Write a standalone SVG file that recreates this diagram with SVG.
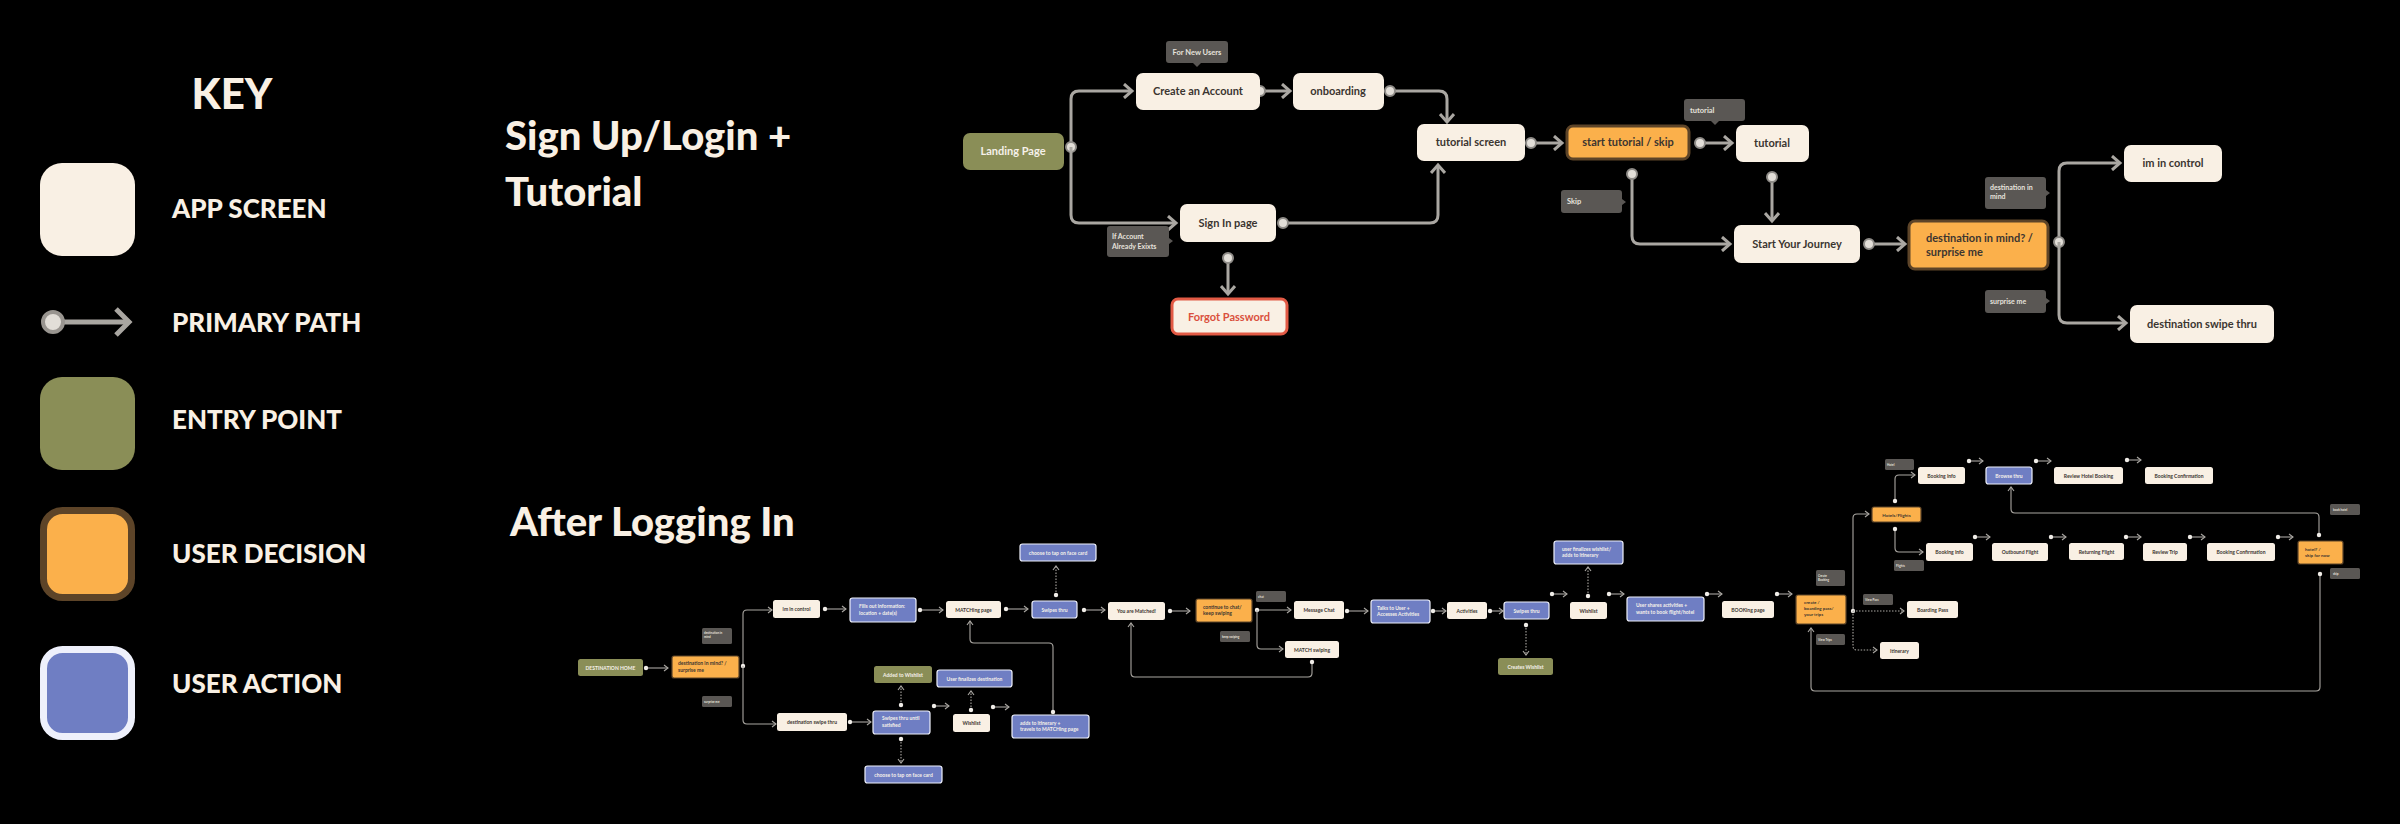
<svg xmlns="http://www.w3.org/2000/svg" width="2400" height="824" viewBox="0 0 2400 824">
<style>
text{font-family:Lato,"Noto Sans","Liberation Sans",sans-serif;font-weight:bold}
.scr{fill:#f9f0e4}
.ent{fill:#8a8e57}
.dec{fill:#fbb04b;stroke:#5d4428;stroke-width:3}
.decs{fill:#fbb04b;stroke:#5d4428;stroke-width:1.2}
.act{fill:#6f7ec3;stroke:#eef0fb;stroke-width:1.2}
.tip{fill:#5a5754}
.d{fill:#3b3530}
.w{fill:#f6f1ea}
.tt{fill:#e6e2dc}
.big{font-weight:900;fill:#f9f0e4}
.c{fill:none;stroke:#aaa7a2;stroke-width:3;marker-end:url(#ab)}
.cd{marker-start:url(#db)}
.s{fill:none;stroke:#aaa7a2;stroke-width:1.1;marker-end:url(#as)}
.sd{marker-start:url(#ds)}
.dot{stroke-dasharray:1.5 1.5}
.m{text-anchor:middle}
</style>
<defs>
<marker id="ab" markerUnits="userSpaceOnUse" markerWidth="14" markerHeight="16" refX="11" refY="8" orient="auto"><path d="M3,1 L11,8 L3,15" fill="none" stroke="#aaa7a2" stroke-width="3"/></marker>
<marker id="db" markerUnits="userSpaceOnUse" markerWidth="16" markerHeight="16" refX="8" refY="8"><circle cx="8" cy="8" r="5" fill="#e2ded8" stroke="#8f8c88" stroke-width="2"/></marker>
<marker id="as" markerUnits="userSpaceOnUse" markerWidth="6" markerHeight="8" refX="5" refY="4" orient="auto"><path d="M1,1 L5,4 L1,7" fill="none" stroke="#aaa7a2" stroke-width="1.1"/></marker>
<marker id="ds" markerUnits="userSpaceOnUse" markerWidth="6" markerHeight="6" refX="3" refY="3"><circle cx="3" cy="3" r="2.2" fill="#f0ede8"/></marker>
</defs>
<rect width="2400" height="824" fill="#000"/>

<g id="key">
<text x="232" y="109" class="big m" font-size="42">KEY</text>
<rect x="40" y="163" width="95" height="93" rx="22" class="scr"/>
<text x="172" y="218" class="big" font-size="26">APP SCREEN</text>
<line x1="60" y1="322" x2="126" y2="322" stroke="#a9a6a1" stroke-width="5"/>
<path d="M116,309 L129,322 L116,335" fill="none" stroke="#a9a6a1" stroke-width="5"/>
<circle cx="53" cy="322" r="10" fill="#e2ded8" stroke="#999590" stroke-width="4"/>
<text x="172" y="332" class="big" font-size="26">PRIMARY PATH</text>
<rect x="40" y="377" width="95" height="93" rx="22" class="ent"/>
<text x="172" y="429" class="big" font-size="26">ENTRY POINT</text>
<rect x="43.5" y="510.5" width="88" height="87" rx="19" fill="#fbb04b" stroke="#5d4428" stroke-width="7"/>
<text x="172" y="563" class="big" font-size="26">USER DECISION</text>
<rect x="43.5" y="649.5" width="88" height="87" rx="19" fill="#6f7ec3" stroke="#eef0fb" stroke-width="7"/>
<text x="172" y="693" class="big" font-size="26">USER ACTION</text>
</g>

<g id="titles">
<text x="505" y="150" class="big" font-size="40">Sign Up/Login +</text>
<text x="505" y="206" class="big" font-size="40">Tutorial</text>
<text x="510" y="536" class="big" font-size="40">After Logging In</text>
</g>

<g id="connectors">
<path class="c cd" d="M1071,147 V99 Q1071,91 1079,91 H1132"/>
<path class="c" d="M1071,147 V215 Q1071,223 1079,223 H1176"/>
<path class="c cd" d="M1260,91 H1290"/>
<path class="c cd" d="M1390,91 H1439 Q1447,91 1447,99 V122"/>
<path class="c cd" d="M1283,223 H1430 Q1438,223 1438,215 V165"/>
<path class="c cd" d="M1228,258 V294"/>
<path class="c cd" d="M1531,143 H1562"/>
<path class="c cd" d="M1700,143 H1732"/>
<path class="c cd" d="M1632,174 V236 Q1632,244 1640,244 H1730"/>
<path class="c cd" d="M1772,177 V221"/>
<path class="c cd" d="M1869,244 H1905"/>
<path class="c cd" d="M2059,242 V171 Q2059,163 2067,163 H2120"/>
<path class="c" d="M2059,242 V315 Q2059,323 2067,323 H2126"/>

<path class="s sd" d="M646,668 H668"/>
<path class="s sd" d="M743,666 V614 Q743,610 747,610 H772"/>
<path class="s" d="M743,666 V720 Q743,724 747,724 H776"/>
<path class="s sd" d="M825,609 H846"/>
<path class="s sd" d="M920,610 H943"/>
<path class="s sd" d="M1006,609 H1028"/>
<path class="s sd dot" d="M1056,595 V566"/>
<path class="s sd" d="M1084,610 H1105"/>
<path class="s sd" d="M850,722 H871"/>
<path class="s sd dot" d="M901,705 V686"/>
<path class="s sd dot" d="M901,739 V763"/>
<path class="s sd" d="M934,706 H949"/>
<path class="s sd dot" d="M971,710 V691"/>
<path class="s sd" d="M993,707 H1009"/>
<path class="s sd" d="M1053,712 V647 Q1053,643 1049,643 H974 Q970,643 970,639 V621"/>
<path class="s sd" d="M1170,611 H1190"/>
<path class="s sd" d="M1257,610 H1291"/>
<path class="s" d="M1257,610 V645 Q1257,649 1261,649 H1283"/>
<path class="s sd" d="M1312,662 V673 Q1312,677 1308,677 H1135 Q1131,677 1131,673 V623"/>
<path class="s sd" d="M1347,611 H1368"/>
<path class="s sd" d="M1433,611 H1446"/>
<path class="s sd" d="M1490,611 H1503"/>
<path class="s sd dot" d="M1526,625 V655"/>
<path class="s sd" d="M1552,594 H1567"/>
<path class="s sd dot" d="M1588,596 V567"/>
<path class="s sd" d="M1609,594 H1624"/>
<path class="s sd" d="M1707,594 H1722"/>
<path class="s sd" d="M1777,594 H1792"/>
<path class="s sd" d="M1853,611 V518 Q1853,514 1857,514 H1869"/>
<path class="s dot" d="M1853,611 H1904"/>
<path class="s dot" d="M1853,611 V646 Q1853,650 1857,650 H1877"/>
<path class="s sd" d="M1895,501 V479 Q1895,475 1899,475 H1915"/>
<path class="s sd" d="M1895,529 V548 Q1895,552 1899,552 H1923"/>
<path class="s sd" d="M1969,461 H1983"/>
<path class="s sd" d="M2036,461 H2051"/>
<path class="s sd" d="M2127,460 H2141"/>
<path class="s sd" d="M1975,537 H1990"/>
<path class="s sd" d="M2051,537 H2066"/>
<path class="s sd" d="M2126,537 H2141"/>
<path class="s sd" d="M2190,537 H2205"/>
<path class="s sd" d="M2278,537 H2293"/>
<path class="s sd" d="M2319,535 V517 Q2319,513 2315,513 H2015 Q2011,513 2011,509 V487"/>
<path class="s sd" d="M2320,574 V687 Q2320,691 2316,691 H1815 Q1811,691 1811,687 V628"/>
</g>

<!-- top flow -->
<g id="landing"><rect x="963" y="133" width="101" height="37" rx="7" class="ent"/><text x="1013" y="155" class="w m" font-size="11">Landing Page</text></g>
<g id="create"><rect x="1136" y="73" width="124" height="37" rx="7" class="scr"/><text x="1198" y="95" class="d m" font-size="11">Create an Account</text></g>
<g id="tip-new"><path d="M1169,41 H1225 Q1228,41 1228,44 V60 Q1228,63 1225,63 H1201 L1197,67 L1193,63 H1169 Q1166,63 1166,60 V44 Q1166,41 1169,41Z" class="tip"/><text x="1197" y="55" class="tt m" font-size="7.5">For New Users</text></g>
<g id="onboarding"><rect x="1293" y="73" width="91" height="37" rx="7" class="scr"/><text x="1338" y="95" class="d m" font-size="11">onboarding</text></g>
<g id="tutscreen"><rect x="1417" y="124" width="108" height="37" rx="7" class="scr"/><text x="1471" y="146" class="d m" font-size="11">tutorial screen</text></g>
<g id="starttut"><rect x="1567" y="126" width="122" height="33" rx="6" class="dec"/><text x="1628" y="146" class="d m" font-size="11">start tutorial / skip</text></g>
<g id="tip-tut"><path d="M1687,99 H1742 Q1745,99 1745,102 V118 Q1745,121 1742,121 H1719 L1715,125 L1711,121 H1687 Q1684,121 1684,118 V102 Q1684,99 1687,99Z" class="tip"/><text x="1690" y="113" class="tt" font-size="7.5">tutorial</text></g>
<g id="tutorial"><rect x="1736" y="125" width="73" height="37" rx="7" class="scr"/><text x="1772" y="147" class="d m" font-size="11">tutorial</text></g>
<g id="tip-skip"><path d="M1564,190 H1619 Q1622,190 1622,193 V199 L1626,202 L1622,205 V210 Q1622,213 1619,213 H1564 Q1561,213 1561,210 V193 Q1561,190 1564,190Z" class="tip"/><text x="1567" y="204" class="tt" font-size="7.5">Skip</text></g>
<g id="journey"><rect x="1734" y="225" width="126" height="38" rx="7" class="scr"/><text x="1797" y="248" class="d m" font-size="11">Start Your Journey</text></g>
<g id="destdec"><rect x="1909" y="221" width="139" height="48" rx="6" class="dec"/><text x="1926" y="242" class="d" font-size="11">destination in mind? /<tspan x="1926" dy="14">surprise me</tspan></text></g>
<g id="tip-dim"><path d="M1988,177 H2043 Q2046,177 2046,180 V190 L2050,193 L2046,196 V206 Q2046,209 2043,209 H1988 Q1985,209 1985,206 V180 Q1985,177 1988,177Z" class="tip"/><text x="1990" y="190" class="tt" font-size="7">destination in<tspan x="1990" dy="9">mind</tspan></text></g>
<g id="tip-sur"><path d="M1988,290 H2043 Q2046,290 2046,293 V298 L2050,301 L2046,304 V310 Q2046,313 2043,313 H1988 Q1985,313 1985,310 V293 Q1985,290 1988,290Z" class="tip"/><text x="1990" y="304" class="tt" font-size="7">surprise me</text></g>
<g id="control"><rect x="2124" y="145" width="98" height="37" rx="7" class="scr"/><text x="2173" y="167" class="d m" font-size="11">im in control</text></g>
<g id="swipethru"><rect x="2130" y="305" width="144" height="38" rx="7" class="scr"/><text x="2202" y="328" class="d m" font-size="11">destination swipe thru</text></g>
<g id="signin"><rect x="1180" y="204" width="96" height="38" rx="7" class="scr"/><text x="1228" y="227" class="d m" font-size="11">Sign In page</text></g>
<g id="tip-acc"><path d="M1110,226 H1166 Q1169,226 1169,229 V238 L1173,241 L1169,244 V254 Q1169,257 1166,257 H1110 Q1107,257 1107,254 V229 Q1107,226 1110,226Z" class="tip"/><text x="1112" y="239" class="tt" font-size="7">If Account<tspan x="1112" dy="10">Already Exixts</tspan></text></g>
<g id="forgot"><rect x="1172" y="299" width="115" height="35" rx="6" fill="#f9f0e4" stroke="#e25a45" stroke-width="3"/><text x="1229" y="321" fill="#d9503d" class="m" font-size="11">Forgot Password</text></g>

<!-- bottom flow -->
<g id="b-home"><rect x="578" y="659" width="65" height="17" rx="2.5" class="ent"/><text x="610.5" y="669.5" class="w m" font-size="5">DESTINATION HOME</text></g>
<g id="b-dec1"><rect x="672" y="656" width="67" height="22" rx="2" class="decs"/><text x="678" y="665" class="d" font-size="5">destination in mind? /<tspan x="678" dy="6.5">surprise me</tspan></text></g>
<g id="b-tip1"><rect x="702" y="628" width="30" height="16" rx="1.5" class="tip"/><text x="704" y="634" class="tt" font-size="3">destination in<tspan x="704" dy="4">mind</tspan></text></g>
<g id="b-tip2"><rect x="702" y="696" width="30" height="11" rx="1.5" class="tip"/><text x="704" y="702.5" class="tt" font-size="3">surprise me</text></g>
<g id="b-control"><rect x="773" y="600" width="47" height="18" rx="2.5" class="scr"/><text x="796.5" y="611" class="d m" font-size="5">im in control</text></g>
<g id="b-fills"><rect x="850" y="598" width="66" height="24" rx="2.5" class="act"/><text x="859" y="608" class="w" font-size="5">Fills out information:<tspan x="859" dy="6.5">location + date(s)</tspan></text></g>
<g id="b-matching"><rect x="946" y="601" width="55" height="17" rx="2.5" class="scr"/><text x="973.5" y="611.5" class="d m" font-size="5">MATCHing page</text></g>
<g id="b-swipes1"><rect x="1032" y="601" width="45" height="17" rx="2.5" class="act"/><text x="1054.5" y="611.5" class="w m" font-size="5">Swipes thru</text></g>
<g id="b-face1"><rect x="1020" y="544" width="76" height="17" rx="2.5" class="act"/><text x="1058" y="554.5" class="w m" font-size="5">choose to tap on face card</text></g>
<g id="b-dswipe"><rect x="777" y="713" width="70" height="18" rx="2.5" class="scr"/><text x="812" y="724" class="d m" font-size="5">destination swipe thru</text></g>
<g id="b-until"><rect x="873" y="711" width="57" height="23" rx="2.5" class="act"/><text x="882" y="720" class="w" font-size="5">Swipes thru until<tspan x="882" dy="6.5">satisfied</tspan></text></g>
<g id="b-added"><rect x="874" y="666" width="58" height="17" rx="2.5" class="ent"/><text x="903" y="676.5" class="w m" font-size="5">Added to Wishlist</text></g>
<g id="b-face2"><rect x="865" y="766" width="77" height="17" rx="2.5" class="act"/><text x="903.5" y="776.5" class="w m" font-size="5">choose to tap on face card</text></g>
<g id="b-wish1"><rect x="953" y="714" width="37" height="18" rx="2.5" class="scr"/><text x="971.5" y="725" class="d m" font-size="5">Wishlist</text></g>
<g id="b-finalize"><rect x="937" y="670" width="75" height="17" rx="2.5" class="act"/><text x="974.5" y="680.5" class="w m" font-size="5">User finalizes destination</text></g>
<g id="b-adds"><rect x="1012" y="715" width="77" height="23" rx="2.5" class="act"/><text x="1020" y="724.5" class="w" font-size="5">adds to itinerary +<tspan x="1020" dy="6.5">travels to MATCHing page</tspan></text></g>
<g id="b-matched"><rect x="1108" y="602" width="57" height="18" rx="2.5" class="scr"/><text x="1136.5" y="613" class="d m" font-size="5">You are Matched!</text></g>
<g id="b-cont"><rect x="1196" y="599" width="56" height="23" rx="2" class="decs"/><text x="1203" y="608.5" class="d" font-size="5">continue to chat/<tspan x="1203" dy="6.5">keep swiping</tspan></text></g>
<g id="b-tipchat"><rect x="1256" y="591" width="30" height="11" rx="1.5" class="tip"/><text x="1258" y="597.5" class="tt" font-size="3">chat</text></g>
<g id="b-tipkeep"><rect x="1220" y="631" width="30" height="11" rx="1.5" class="tip"/><text x="1222" y="637.5" class="tt" font-size="3">keep swiping</text></g>
<g id="b-msg"><rect x="1294" y="601" width="50" height="18" rx="2.5" class="scr"/><text x="1319" y="612" class="d m" font-size="5">Message Chat</text></g>
<g id="b-matchsw"><rect x="1285" y="641" width="54" height="17" rx="2.5" class="scr"/><text x="1312" y="651.5" class="d m" font-size="5">MATCH swiping</text></g>
<g id="b-talks"><rect x="1371" y="600" width="59" height="23" rx="2.5" class="act"/><text x="1377" y="609.5" class="w" font-size="5">Talks to User +<tspan x="1377" dy="6.5">Accesses Activities</tspan></text></g>
<g id="b-activities"><rect x="1447" y="602" width="40" height="17" rx="2.5" class="scr"/><text x="1467" y="612.5" class="d m" font-size="5">Activities</text></g>
<g id="b-swipes2"><rect x="1504" y="602" width="45" height="17" rx="2.5" class="act"/><text x="1526.5" y="612.5" class="w m" font-size="5">Swipes thru</text></g>
<g id="b-creates"><rect x="1498" y="658" width="55" height="17" rx="2.5" class="ent"/><text x="1525.5" y="668.5" class="w m" font-size="5">Creates Wishlist</text></g>
<g id="b-wish2"><rect x="1570" y="602" width="37" height="17" rx="2.5" class="scr"/><text x="1588.5" y="612.5" class="d m" font-size="5">Wishlist</text></g>
<g id="b-finwish"><rect x="1554" y="541" width="69" height="23" rx="2.5" class="act"/><text x="1562" y="550.5" class="w" font-size="5">user finalizes wishlist/<tspan x="1562" dy="6.5">adds to itinerary</tspan></text></g>
<g id="b-shares"><rect x="1627" y="597" width="77" height="24" rx="2.5" class="act"/><text x="1636" y="607" class="w" font-size="5">User shares activities +<tspan x="1636" dy="6.5">wants to book flight/hotel</tspan></text></g>
<g id="b-booking"><rect x="1722" y="601" width="52" height="17" rx="2.5" class="scr"/><text x="1748" y="611.5" class="d m" font-size="5">BOOKing page</text></g>
<g id="b-createdec"><rect x="1796" y="595" width="50" height="29" rx="2" class="decs"/><text x="1804" y="604" class="d" font-size="4.5">create /<tspan x="1804" dy="6">boarding pass/</tspan><tspan x="1804" dy="6">your trips</tspan></text></g>
<g id="b-tipcb"><rect x="1816" y="570" width="29" height="16" rx="1.5" class="tip"/><text x="1818" y="576.5" class="tt" font-size="3">Create<tspan x="1818" dy="4.5">Booking</tspan></text></g>
<g id="b-tipvt"><rect x="1816" y="634" width="29" height="11" rx="1.5" class="tip"/><text x="1818" y="640.5" class="tt" font-size="3">View Trips</text></g>
<g id="b-hotels"><rect x="1872" y="507" width="49" height="15" rx="2" class="decs"/><text x="1896.5" y="516.5" class="d m" font-size="4.5">Hotels/Flights</text></g>
<g id="b-tiphotel"><rect x="1885" y="459" width="29" height="11" rx="1.5" class="tip"/><text x="1887" y="465.5" class="tt" font-size="3">Hotel</text></g>
<g id="b-tipflights"><rect x="1894" y="560" width="30" height="11" rx="1.5" class="tip"/><text x="1896" y="566.5" class="tt" font-size="3">Flights</text></g>
<g id="b-tipvp"><rect x="1863" y="594" width="30" height="11" rx="1.5" class="tip"/><text x="1865" y="600.5" class="tt" font-size="3">View Pass</text></g>
<g id="b-bpass"><rect x="1907" y="601" width="51" height="17" rx="2.5" class="scr"/><text x="1932.5" y="611.5" class="d m" font-size="5">Boarding Pass</text></g>
<g id="b-itin"><rect x="1880" y="642" width="39" height="17" rx="2.5" class="scr"/><text x="1899.5" y="652.5" class="d m" font-size="5">Itinerary</text></g>
<g id="b-binfo1"><rect x="1918" y="467" width="47" height="17" rx="2.5" class="scr"/><text x="1941.5" y="477.5" class="d m" font-size="5">Booking Info</text></g>
<g id="b-browse"><rect x="1986" y="467" width="46" height="17" rx="2.5" class="act"/><text x="2009" y="477.5" class="w m" font-size="5">Browse thru</text></g>
<g id="b-rhotel"><rect x="2054" y="467" width="69" height="17" rx="2.5" class="scr"/><text x="2088.5" y="477.5" class="d m" font-size="5">Review Hotel Booking</text></g>
<g id="b-bconf1"><rect x="2145" y="467" width="68" height="17" rx="2.5" class="scr"/><text x="2179" y="477.5" class="d m" font-size="5">Booking Confirmation</text></g>
<g id="b-binfo2"><rect x="1926" y="543" width="47" height="18" rx="2.5" class="scr"/><text x="1949.5" y="554" class="d m" font-size="5">Booking Info</text></g>
<g id="b-outbound"><rect x="1992" y="543" width="56" height="18" rx="2.5" class="scr"/><text x="2020" y="554" class="d m" font-size="5">Outbound Flight</text></g>
<g id="b-returning"><rect x="2069" y="543" width="55" height="17" rx="2.5" class="scr"/><text x="2096.5" y="553.5" class="d m" font-size="5">Returning Flight</text></g>
<g id="b-review"><rect x="2143" y="543" width="44" height="18" rx="2.5" class="scr"/><text x="2165" y="554" class="d m" font-size="5">Review Trip</text></g>
<g id="b-bconf2"><rect x="2207" y="543" width="68" height="18" rx="2.5" class="scr"/><text x="2241" y="554" class="d m" font-size="5">Booking Confirmation</text></g>
<g id="b-hoteldec"><rect x="2298" y="541" width="45" height="23" rx="2" class="decs"/><text x="2305" y="550.5" class="d" font-size="4.5">hotel? /<tspan x="2305" dy="6.5">skip for now</tspan></text></g>
<g id="b-tipbook"><rect x="2330" y="504" width="30" height="11" rx="1.5" class="tip"/><text x="2333" y="510.5" class="tt" font-size="3">book hotel</text></g>
<g id="b-tipskip"><rect x="2330" y="568" width="30" height="11" rx="1.5" class="tip"/><text x="2333" y="574.5" class="tt" font-size="3">skip</text></g>
</svg>
